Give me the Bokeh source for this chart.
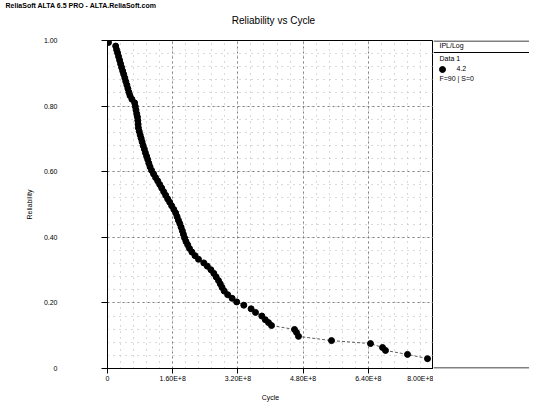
import json
from bokeh.plotting import figure
from bokeh.layouts import row, column
from bokeh.models import FixedTicker, CustomJSTickFormatter, Range1d
from bokeh.core.properties import value
from bokeh.embed import file_html
from bokeh.resources import INLINE

# ---- data (cycles in units of 1E+8, reliability) ----
cycles_e8 = [
    0.025, 0.201, 0.223, 0.248, 0.272, 0.297, 0.321, 0.346, 0.373, 0.398,
    0.425, 0.449, 0.476, 0.501, 0.525, 0.552, 0.599, 0.665, 0.682, 0.699,
    0.717, 0.734, 0.744, 0.751, 0.758, 0.778, 0.802, 0.825, 0.849, 0.874,
    0.903, 0.930, 0.960, 0.987, 1.014, 1.043, 1.082, 1.131, 1.180, 1.232,
    1.281, 1.330, 1.379, 1.428, 1.477, 1.526, 1.575, 1.627, 1.674, 1.708,
    1.740, 1.774, 1.806, 1.836, 1.863, 1.892, 1.926, 1.968, 2.012, 2.071,
    2.147, 2.233, 2.363, 2.449, 2.537, 2.609, 2.667, 2.724, 2.768, 2.812,
    2.864, 2.950, 3.058, 3.171, 3.345, 3.524, 3.632, 3.787, 3.871, 3.951,
    4.025, 4.589, 4.638, 4.687, 5.497, 6.454, 6.749, 6.822, 7.362, 7.853,
]
reliability = [
    0.994, 0.983, 0.972, 0.962, 0.951, 0.940, 0.929, 0.918, 0.907, 0.897,
    0.886, 0.875, 0.864, 0.853, 0.842, 0.832, 0.821, 0.810, 0.799, 0.788,
    0.777, 0.767, 0.756, 0.745, 0.734, 0.723, 0.712, 0.702, 0.691, 0.680,
    0.669, 0.658, 0.647, 0.637, 0.626, 0.615, 0.604, 0.593, 0.582, 0.572,
    0.561, 0.550, 0.539, 0.528, 0.517, 0.507, 0.496, 0.485, 0.474, 0.463,
    0.452, 0.442, 0.431, 0.420, 0.409, 0.398, 0.387, 0.377, 0.366, 0.355,
    0.344, 0.333, 0.322, 0.312, 0.301, 0.290, 0.279, 0.268, 0.258, 0.247,
    0.236, 0.225, 0.214, 0.203, 0.193, 0.182, 0.171, 0.160, 0.149, 0.140,
    0.131, 0.119, 0.110, 0.098, 0.085, 0.076, 0.064, 0.055, 0.043, 0.030,
]
x_ticks = [0, 1.6e8, 3.2e8, 4.8e8, 6.4e8, 8.0e8]
x_tick_labels = ["0", "1.60E+8", "3.20E+8", "4.80E+8", "6.40E+8", "8.00E+8"]
y_ticks = [0, 0.2, 0.4, 0.6, 0.8, 1.0]
y_tick_labels = ["0", "0.20", "0.40", "0.60", "0.80", "1.00"]
chart_title = "Reliability vs Cycle"
banner = "ReliaSoft ALTA 6.5 PRO - ALTA.ReliaSoft.com"
legend_title = "IPL/Log"
legend_series = "Data 1"
legend_param = "4.2"
legend_counts = "F=90 | S=0"

cycles = [c * 1e8 for c in cycles_e8]

FONT = "Liberation Sans"


def formatter(ticks, labels):
    code = (
        "const t = %s; const l = %s;"
        "for (let i = 0; i < t.length; i++) {"
        "  if (Math.abs(t[i] - tick) <= 1e-6 * Math.max(1, Math.abs(t[i]))) return l[i];"
        "} return '';" % (json.dumps(ticks), json.dumps(labels))
    )
    return CustomJSTickFormatter(code=code)


# ---------------- header (banner + title) ----------------
hdr = figure(width=529, height=34, output_backend="svg", toolbar_location=None,
             title=None, x_range=Range1d(0, 529), y_range=Range1d(0, 34),
             x_axis_type=None, y_axis_type=None,
             min_border_left=0, min_border_right=0, min_border_top=0,
             min_border_bottom=0)
hdr.outline_line_color = None
hdr.background_fill_color = "white"
hdr.border_fill_color = "white"
hdr.text(x=[5], y=[29], text=[banner], text_font=value(FONT), text_font_size="7px",
         text_font_style="bold", text_baseline="middle", text_color="black")
hdr.text(x=[273], y=[14], text=[chart_title], text_font=value(FONT),
         text_font_size="10px", text_baseline="middle", text_align="center",
         text_color="black")

# ---------------- main plot ----------------
p = figure(width=433, height=373, output_backend="svg", toolbar_location=None,
           title=None, x_range=Range1d(0, 8.0e8), y_range=Range1d(0, 1.0),
           min_border_left=107, min_border_right=0, min_border_top=6,
           min_border_bottom=39)
p.background_fill_color = "white"
p.border_fill_color = "white"
p.outline_line_color = "black"
p.outline_line_width = 1

x_minor = [i * 3.2e7 for i in range(26)]
y_minor = [i * 0.04 for i in range(26)]

p.xaxis.ticker = FixedTicker(ticks=x_ticks, minor_ticks=x_minor)
p.yaxis.ticker = FixedTicker(ticks=y_ticks, minor_ticks=y_minor)
p.xaxis.formatter = formatter(x_ticks, x_tick_labels)
p.yaxis.formatter = formatter(y_ticks, y_tick_labels)

for ax in (p.xaxis, p.yaxis):
    ax.axis_line_color = "black"
    ax.major_tick_line_color = "black"
    ax.major_tick_in = 0
    ax.minor_tick_in = 0
    ax.minor_tick_out = 0
    ax.major_label_text_font = FONT
    ax.major_label_text_font_size = "7px"
    ax.major_label_text_color = "black"
    ax.axis_label_text_font = FONT
    ax.axis_label_text_font_size = "7px"
    ax.axis_label_text_font_style = "normal"
    ax.axis_label_text_color = "black"
p.xaxis.major_tick_out = 5
p.xaxis.major_label_standoff = 1
p.xaxis.axis_label = "Cycle"
p.xaxis.axis_label_standoff = 9
p.yaxis.major_tick_out = 6
p.yaxis.major_label_standoff = 44
p.yaxis.axis_label = "Reliability"
p.yaxis.axis_label_standoff = 8

p.xgrid.grid_line_color = "#808080"
p.xgrid.grid_line_dash = "2 3"
p.ygrid.grid_line_color = "#808080"
p.ygrid.grid_line_dash = "2 3"
p.xgrid.minor_grid_line_color = "#b4b4b4"
p.xgrid.minor_grid_line_dash = "1 5"
p.ygrid.minor_grid_line_color = "#b4b4b4"
p.ygrid.minor_grid_line_dash = "1 5"

p.line(cycles, reliability, line_color="#333333", line_width=0.8, line_dash="3 2")
p.scatter(cycles, reliability, size=6, fill_color="black", line_color="black")

# ---------------- legend panel (right) ----------------
lg = figure(width=96, height=373, output_backend="svg", toolbar_location=None,
            title=None, x_range=Range1d(0, 96), y_range=Range1d(0, 328),
            x_axis_type=None, y_axis_type=None,
            min_border_left=0, min_border_right=0, min_border_top=6,
            min_border_bottom=39)
lg.outline_line_color = None
lg.background_fill_color = "white"
lg.border_fill_color = "white"
lg.segment(x0=[0, 0, 0], y0=[327.5, 316, 0.5], x1=[96, 96, 96], y1=[327.5, 316, 0.5],
           line_color="black", line_width=1)
lg.text(x=[6, 6, 23, 6], y=[323, 310, 300, 290],
        text=[legend_title, legend_series, legend_param, legend_counts],
        text_font=value(FONT), text_font_size="7px", text_baseline="middle",
        text_color="black")
lg.scatter(x=[9], y=[299], size=6, fill_color="black", line_color="black")

open("out.html", "w").write(file_html(column(hdr, row(p, lg)), INLINE))
